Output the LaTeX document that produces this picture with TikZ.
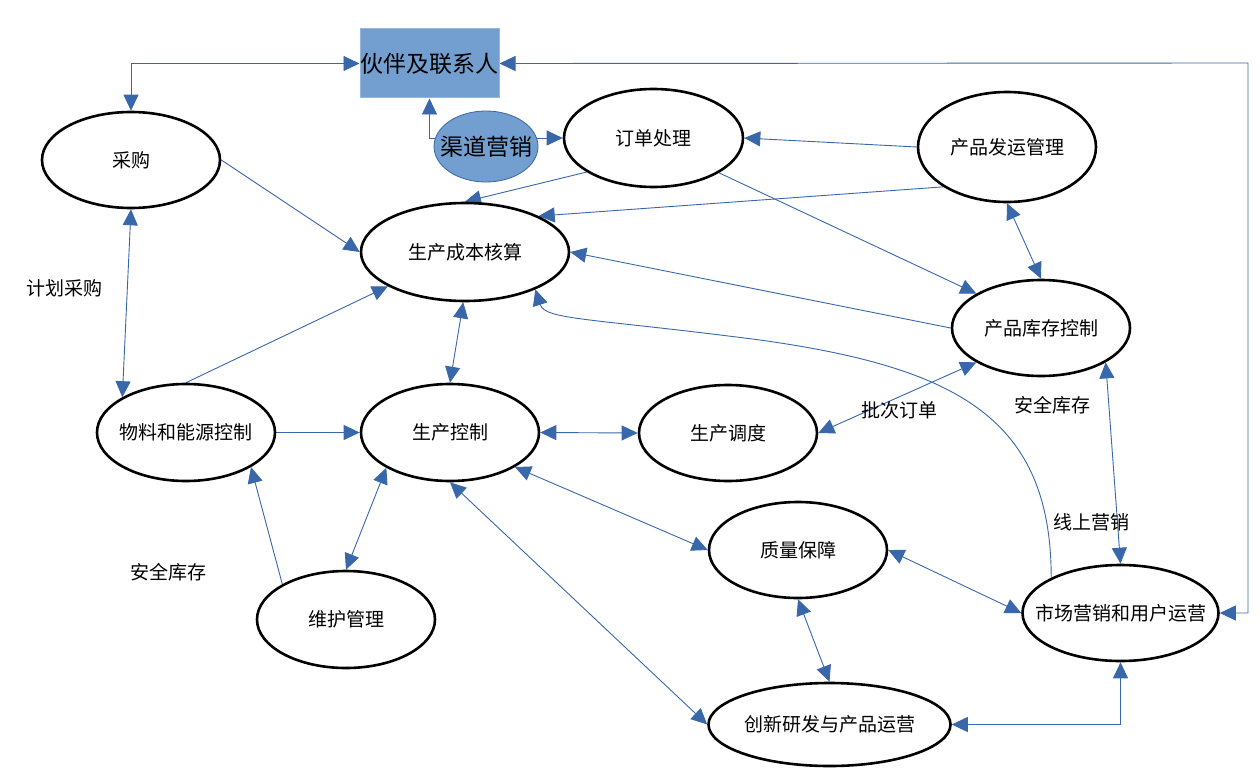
\documentclass[tikz,border=0pt]{standalone}
\usepackage{fontspec}
\setmainfont{Noto Sans CJK SC}
\usetikzlibrary{shapes.geometric,arrows.meta}
\definecolor{lnblue}{RGB}{56,103,170}
\definecolor{boxblue}{RGB}{114,159,207}
\definecolor{boxedge}{RGB}{150,182,222}
\pgfdeclarelayer{bg}
\pgfdeclarelayer{links}
\pgfsetlayers{bg,links,main}
\newcommand{\zb}[1]{\makebox[0pt]{#1}}
\begin{document}
\begin{tikzpicture}[x=1pt,y=-1pt,
  proc/.style={ellipse, draw=black, line width=2.6pt, fill=white, inner sep=0pt,
    font=\fontsize{19pt}{22pt}\selectfont},
  lbl/.style={inner sep=0pt, font=\fontsize{19pt}{22pt}\selectfont},
  oneway/.style={draw=lnblue, line width=0.9pt, -{Triangle[length=16pt,width=15pt]}},
  twoway/.style={draw=lnblue, line width=0.9pt,
    {Triangle[length=16pt,width=15pt]}-{Triangle[length=16pt,width=15pt]}},
]
\useasboundingbox (0,0) rectangle (1260,773);
\begin{pgfonlayer}{bg}
\fill[white] (0,0) rectangle (1260,773);
\end{pgfonlayer}

% nodes
\node[rectangle, draw=boxedge, fill=boxblue, line width=1pt, inner sep=0pt,
  minimum width=139pt, minimum height=69pt, font=\fontsize{23pt}{26pt}\selectfont]
  (partner) at (429.5,63.5) {伙伴及联系人};
\node[ellipse, draw=lnblue, fill=boxblue, line width=0.8pt, inner sep=0pt,
  minimum width=104pt, minimum height=71pt, font=\fontsize{23pt}{26pt}\selectfont]
  (channel) at (486,146.5) {\zb{渠道营销}};
\node[proc, minimum width=178pt, minimum height=96pt] (caigou) at (131,160) {\zb{采购}};
\node[proc, minimum width=179pt, minimum height=98pt] (order) at (653.5,138) {\zb{订单处理}};
\node[proc, minimum width=178pt, minimum height=110pt] (ship) at (1007,147) {\zb{产品发运管理}};
\node[proc, minimum width=208pt, minimum height=98pt] (cost) at (465,252) {\zb{生产成本核算}};
\node[proc, minimum width=178pt, minimum height=96pt] (stock) at (1041,328) {\zb{产品库存控制}};
\node[proc, minimum width=178pt, minimum height=97pt] (material) at (186,432.5) {\zb{物料和能源控制}};
\node[proc, minimum width=178pt, minimum height=97pt] (prodctl) at (450,432.5) {\zb{生产控制}};
\node[proc, minimum width=178pt, minimum height=96pt] (sched) at (728,433) {\zb{生产调度}};
\node[proc, minimum width=178pt, minimum height=96pt] (quality) at (798,550) {\zb{质量保障}};
\node[proc, minimum width=178pt, minimum height=97pt] (maint) at (346,619.5) {\zb{维护管理}};
\node[proc, minimum width=196pt, minimum height=96pt] (market) at (1120.5,613) {\zb{市场营销和用户运营}};
\node[proc, minimum width=242pt, minimum height=83pt] (innov) at (829.5,724.5) {\zb{创新研发与产品运营}};

% free labels
\node[lbl] (jihua) at (64,288) {计划采购};
\node[lbl] (anquanA) at (168,572) {安全库存};
\node[lbl] (pici) at (899,410) {批次订单};
\node[lbl] (anquanB) at (1052,405) {安全库存};
\node[lbl] (xianshang) at (1091,522) {线上营销};

\coordinate (rc) at (1248,63);
\coordinate (cv) at (760,340);

\begin{pgfonlayer}{links}
\draw[twoway] (caigou.north) |- (partner.west);
\draw[twoway] (partner.east) -- (rc) |- (market.east);
\draw[twoway] (partner.south) |- (order.west);
\draw[oneway] (order.207) -- (cost.north);
\draw[oneway] (ship.west) -- (order.east);
\draw[oneway] (ship.212) -- (cost.26);
\draw[oneway] (order.332) -- (stock.152);
\draw[twoway] (ship.south) -- (stock.north);
\draw[oneway] (stock.west) -- (cost.east);
\draw[oneway] (market.153) .. controls (1051,420) and (960,368) .. (cv)
  .. controls (590,318) and (545,320) .. (cost.332);
\draw[oneway] (caigou.east) -- (cost.west);
\draw[oneway] (material.north) -- (cost.204);
\draw[twoway] (cost.268) -- (prodctl.north);
\draw[twoway] (caigou.south) -- (material.151);
\draw[oneway] (material.east) -- (prodctl.west);
\draw[oneway] (maint.151) -- (material.332);
\draw[twoway] (maint.north) -- (prodctl.209);
\draw[twoway] (prodctl.east) -- (sched.west);
\draw[twoway] (sched.east) -- (stock.208);
\draw[twoway] (prodctl.332) -- (quality.west);
\draw[twoway] (prodctl.south) -- (innov.west);
\draw[twoway] (quality.east) -- (market.west);
\draw[twoway] (quality.south) -- (innov.north);
\draw[twoway] (stock.332) -- (market.north);
\draw[twoway] (innov.east) -| (market.south);
\end{pgfonlayer}
\end{tikzpicture}
\end{document}
